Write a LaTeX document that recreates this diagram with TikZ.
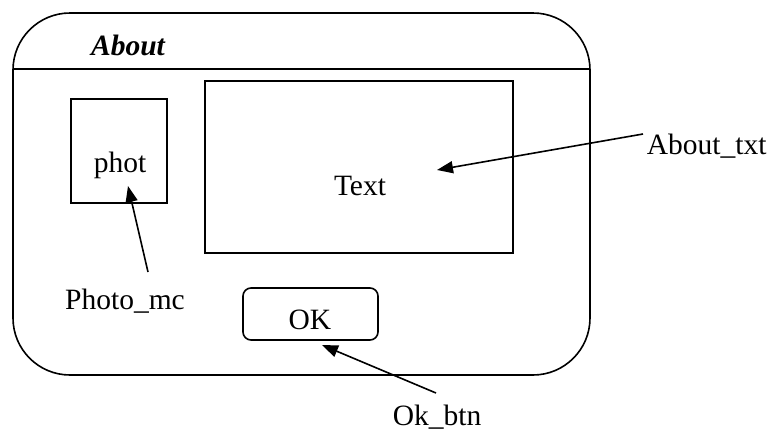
\documentclass[tikz,border=0pt]{standalone}
\usepackage{fontspec}
\setmainfont{Liberation Serif}
\usetikzlibrary{arrows.meta}
\begin{document}
\begin{tikzpicture}[x=1pt,y=-1pt,line width=1.6pt,
  lbl/.style={font=\fontsize{29.5}{33}\selectfont, inner sep=0pt},
  box/.style={draw, line width=1.6pt, inner sep=0pt},
  ptr/.style={line width=1.6pt, -{Triangle[length=16pt,width=12pt]}}]
\useasboundingbox (0,0) rectangle (771,434);
% window
\draw[rounded corners=57pt] (13,13) rectangle (590,375);
\draw (13,69) -- (590,69);
\node[font=\fontsize{29.5}{33}\selectfont\bfseries\itshape, inner sep=0pt] (title) at (128,45) {About};
% photo
\node[box, minimum width=96pt, minimum height=104pt] (photo) at (119,151) {};
\node[lbl] (phot) at (120,165) {phot};
% text area
\node[box, minimum width=308pt, minimum height=172pt] (textbox) at (359,167) {};
\node[lbl] (text) at (360,186) {Text};
% OK button
\node[box, rounded corners=8pt, minimum width=135pt, minimum height=52pt] (ok) at (310.5,314) {};
\node[lbl] (oktext) at (310,320) {OK};
% labels
\node[lbl, anchor=west] (abouttxt) at (646,146) {About\_txt};
\node[lbl] (photomc) at (125,301) {Photo\_mc};
\node[lbl] (okbtn) at (437,417) {Ok\_btn};
\coordinate (aboutend) at (437,170);
\coordinate (photoend) at (128,186);
\coordinate (okend) at (322,345);
\coordinate (photostart) at (148,272);
\coordinate (okstart) at (436,393);
\draw[ptr] (abouttxt.west) ++(-3,-12) -- (aboutend);
\draw[ptr] (photostart) -- (photoend);
\draw[ptr] (okstart) -- (okend);
\end{tikzpicture}
\end{document}
